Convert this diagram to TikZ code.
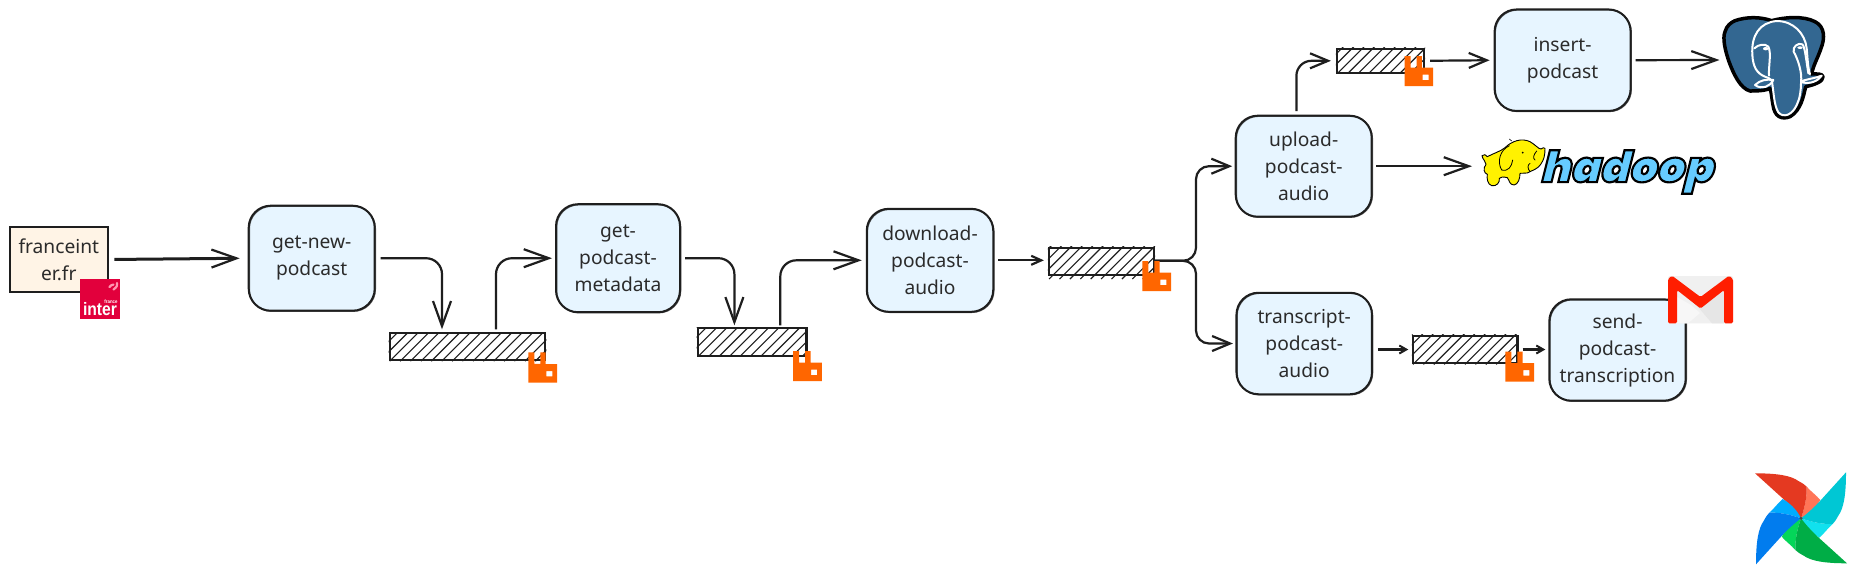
\documentclass[tikz,border=0pt]{standalone}
\usepackage{fontspec}
\setmainfont{Noto Sans}
\newfontfamily\interfont[FakeStretch=0.87]{Liberation Sans Bold}
\newfontfamily\hadoopfont[UprightFont=* Black,FakeSlant=0.25,FakeBold=5]{Poppins}
\usetikzlibrary{arrows.meta,calc}
\definecolor{ink}{HTML}{1E1E1E}
\definecolor{labelc}{HTML}{2B2B2B}
\definecolor{procfill}{HTML}{E7F5FF}
\definecolor{srcfill}{HTML}{FFF4E6}
\definecolor{rabbitc}{HTML}{FF6600}
\definecolor{pgblue}{HTML}{336791}
\definecolor{hdblue}{HTML}{66CCFF}
\tikzset{
  x=1pt,y=-1pt,
  sk/.style={draw=ink,line width=2pt,postaction={draw=ink,line width=1pt,opacity=.7,transform canvas={shift={(0.8pt,-0.7pt)}}}},
  proc/.style={sk,fill=procfill,rounded corners=22pt,align=center,text=labelc,inner sep=0pt,
    font=\fontsize{19.2}{27}\selectfont},
  src/.style={sk,fill=srcfill,align=center,text=labelc,inner sep=0pt,minimum width=98pt,minimum height=65pt,
    font=\fontsize{19.2}{27}\selectfont},
  queue/.style={draw=ink,line width=2.2pt,inner sep=0pt},
  hatchline/.style={draw=ink,line width=1.1pt},
  conn/.style={draw=ink,line width=2.2pt},
  bigtip/.style={-{Straight Barb[length=25pt,width=18pt,line width=2.2pt]}},
  midtip/.style={-{Straight Barb[length=18pt,width=15pt,line width=2.2pt]}},
  smalltip/.style={-{Straight Barb[length=10pt,width=9pt,line width=2.2pt]}},
  tinytip/.style={-{Straight Barb[length=7pt,width=8pt,line width=2pt]},line width=2.2pt},
  wl/.style={draw=white,line width=2pt,line cap=round,line join=round},
  hdl/.style={draw=black,line width=.8pt,line cap=round},
}
\newcommand{\queuebox}[6][0]{%
  \node[queue,minimum width=#5 pt,minimum height=#6 pt] (#2) at (#3,#4) {};
  \begin{scope}
    \clip ($(#2.south west)+(0,#1)$) rectangle (#2.north east);
    \foreach \i in {-30,-19.6,...,#5}{\draw[hatchline] ($(#2.south west)+(\i,#1)$) -- ++(36,-36);}
  \end{scope}}
\newcommand{\rabbiticon}[2]{%
  \fill[rabbitc,even odd rule,shift={(#1,#2)}] (0,0) -- (6,0) -- (6,11.5) -- (12,11.5) -- (12,0) -- (17.3,0) -- (17.3,11.7) -- (28.7,11.7) -- (28.7,30.2) -- (0,30.2) -- cycle (18,18.7) rectangle (24,24);}
\begin{document}
\begin{tikzpicture}
\useasboundingbox (0,0) rectangle (1857,574);
\fill[white] (0,0) rectangle (1857,574);

% process nodes
\node[src] (src) at (58.8,259.5) {franceint\\er.fr};
\node[proc,minimum width=126pt,minimum height=105pt] (gnp) at (311.7,258.2) {get-new-\\podcast};
\node[proc,minimum width=124pt,minimum height=108pt] (gpm) at (618,258.2) {get-\\podcast-\\metadata};
\node[proc,minimum width=126.5pt,minimum height=103pt] (dpa) at (930,260.3) {download-\\podcast-\\audio};
\node[proc,minimum width=136pt,minimum height=101pt] (upa) at (1303.7,166.2) {upload-\\podcast-\\audio};
\node[proc,minimum width=136pt,minimum height=101.5pt] (ipn) at (1562.6,60.2) {insert-\\podcast};
\node[proc,minimum width=135.5pt,minimum height=101.5pt] (tpa) at (1304.2,343.5) {transcript-\\podcast-\\audio};
\node[proc,minimum width=136.4pt,minimum height=101.4pt] (spt) at (1617.5,350) {send-\\podcast-\\transcription};

% queues
\queuebox{qa}{467.5}{346.7}{155.7}{26.7}
\queuebox{qb}{752.1}{342}{108.6}{27.4}
\queuebox[3]{qc}{1101.5}{261.3}{105}{27.3}
\queuebox{qd}{1380.5}{60.8}{87}{23.7}
\queuebox{qe}{1465.2}{349.5}{104.6}{27.6}

% free ends
\coordinate (qaout) at (442,333.3);
\coordinate (qain) at (496,333.3);
\coordinate (qbout) at (734.4,328.3);
\coordinate (qbin) at (780.3,328.3);
\coordinate (split) at (1196,260.8);
\coordinate (upout) at (1296.4,115.7);
\coordinate (pgend) at (1723,60);
\coordinate (hdend) at (1481,166.2);

% connectors
\draw[conn,bigtip,line width=3pt,shorten <=5.5pt,shorten >=8pt] (src.east) -- (gnp.west);
\draw[conn,bigtip,rounded corners=16pt,shorten <=5pt,shorten >=4pt] (gnp.east) -| (qaout);
\draw[conn,bigtip,rounded corners=16pt,shorten <=4pt,shorten >=3pt] (qain) |- (gpm.west);
\draw[conn,bigtip,rounded corners=16pt,shorten <=4pt,shorten >=3pt] (gpm.east) -| (qbout);
\draw[conn,bigtip,rounded corners=16pt,shorten <=3pt,shorten >=4pt] (qbin) |- (dpa.west);
\draw[conn,smalltip,shorten <=4pt,shorten >=4pt] (dpa.east) -- (dpa.east -| qc.west);
\draw[conn,midtip,rounded corners=13pt,shorten >=2.5pt] (split -| qc.east) -- (split) |- (upa.west);
\draw[conn,midtip,rounded corners=13pt,shorten >=2.5pt] (split -| qc.east) -- (split) |- (tpa.west);
\draw[conn,midtip,rounded corners=15pt,shorten <=4.5pt,shorten >=5pt] (upout) |- (qd.west);
\draw[conn,midtip,shorten <=5pt,shorten >=4pt] (qd.east) -- (ipn.west);
\draw[conn,bigtip,shorten <=4pt,shorten >=3.5pt] (ipn.east) -- (pgend);
\draw[conn,bigtip,shorten <=3.5pt,shorten >=9pt] (upa.east) -- (hdend);
\draw[conn,tinytip,shorten <=5pt,shorten >=3.5pt] (qe.west -| tpa.east) -- (qe.west);
\draw[conn,tinytip,shorten <=4pt,shorten >=3pt] (qe.east) -- (qe.east -| spt.west);

% rabbit icons
\rabbiticon{528.3}{352.4}
\rabbiticon{793.2}{351}
\rabbiticon{1142.3}{261}
\rabbiticon{1404.5}{56}
\rabbiticon{1505.3}{351.5}

% france inter logo
\fill[fill={rgb,255:red,226;green,0;blue,60}] (80,279) rectangle (120,319);
\draw[draw={rgb,255:red,255;green,150;blue,175},line width=2.2pt,line cap=round] (109.5,287) .. controls (110.5,285.5) and (111.5,285) .. (113.5,284.5);
\draw[draw={rgb,255:red,255;green,150;blue,175},line width=2.2pt,line cap=round] (117,283) .. controls (117.8,285) and (117,287) .. (113.5,289.5);
\node[inner sep=0pt,text=white,font=\interfont\fontsize{5}{5}\selectfont] (france) at (111,301.5) {france};
\node[inner sep=0pt,text=white,font=\interfont\fontsize{18}{18}\selectfont] (inter) at (100,309.5) {inter};

% gmail icon
\fill[fill={rgb,255:red,240;green,240;blue,240},rounded corners=1.5pt] (1668,276) rectangle (1733,323.3);
\fill[fill={rgb,255:red,230;green,230;blue,230}] (1677,290) -- (1700.5,308) -- (1724,290) -- (1724,323.3) -- (1712,323.3) -- (1692,300) -- cycle;
\fill[fill={rgb,255:red,247;green,247;blue,247}] (1677,323.3) -- (1677,297) -- (1691,305) -- (1700,313) -- (1688,323.3) -- cycle;
\fill[fill={rgb,255:red,255;green,30;blue,0},rounded corners=1.5pt] (1668,279) -- (1672,275.7) -- (1700.5,297) -- (1729,275.7) -- (1733,279) -- (1733,323.3) -- (1724,323.3) -- (1724,290) -- (1700.5,308.5) -- (1677,290) -- (1677,323.3) -- (1668,323.3) -- cycle;

% airflow pinwheel
\begin{scope}[shift={(1801,518.3)},scale=1/3]
  \foreach \r/\dk/\lt in {0/E43921/FF7557,-90/00C7D4/11E1EE,-180/00AD46/04D659,-270/017CEE/00ACFF}{
    \definecolor{dkc}{HTML}{\dk}\definecolor{ltc}{HTML}{\lt}
    \begin{scope}[rotate=\r]
      \fill[ltc] (17,-95) .. controls (30,-80) and (45,-70) .. (58,-55) .. controls (40,-25) and (20,-10) .. (0,0) .. controls (12,-35) and (18,-65) .. (17,-95) -- cycle;
      \fill[dkc] (-138,-135) .. controls (-70,-135) and (-30,-128) .. (-8,-112) .. controls (5,-105) and (12,-100) .. (17,-95) .. controls (18,-65) and (12,-35) .. (0,0) .. controls (-15,-20) and (-35,-42) .. (-53,-58) -- cycle;
    \end{scope}}
  \fill[fill={rgb,255:red,74;green,72;blue,72}] (0,0) circle (5);
\end{scope}

% postgres elephant
\begin{scope}[shift={(1715,5)},scale=1/3]
  \path[fill=pgblue,draw=black,line width=3.5pt,line join=round]
    (60,47) .. controls (95,35) and (135,35) .. (170,47)
    .. controls (210,36) and (265,32) .. (300,50)
    .. controls (330,65) and (330,100) .. (318,130)
    .. controls (308,160) and (295,180) .. (290,207)
    .. controls (305,207) and (322,205) .. (324,215)
    .. controls (326,230) and (295,240) .. (272,245)
    .. controls (265,275) and (258,315) .. (225,335)
    .. controls (200,345) and (178,335) .. (174,300)
    .. controls (170,280) and (170,265) .. (165,250)
    .. controls (150,258) and (120,258) .. (105,258)
    .. controls (75,250) and (55,205) .. (42,170)
    .. controls (30,135) and (22,100) .. (30,80)
    .. controls (35,62) and (48,52) .. (60,47) -- cycle;
  \draw[wl] (112,150) .. controls (108,90) and (135,52) .. (185,48) .. controls (235,48) and (270,85) .. (275,130) .. controls (278,160) and (278,185) .. (285,208);
  \draw[wl] (112,150) .. controls (114,185) and (125,205) .. (150,215) .. controls (158,218) and (165,220) .. (170,226) .. controls (176,255) and (176,300) .. (190,322) .. controls (205,340) and (232,330) .. (245,300) .. controls (255,280) and (258,255) .. (258,232) .. controls (262,205) and (250,165) .. (236,140) .. controls (232,125) and (250,112) .. (262,118) .. controls (270,125) and (274,170) .. (280,205);
  \draw[wl] (118,130) .. controls (130,118) and (150,115) .. (160,125) .. controls (170,145) and (160,185) .. (162,212);
  \draw[wl] (120,240) .. controls (135,225) and (155,222) .. (175,225) .. controls (165,245) and (140,255) .. (120,240) -- cycle;
  \draw[wl] (260,228) .. controls (280,222) and (305,218) .. (320,212) .. controls (310,228) and (285,238) .. (262,232);
  \fill[white] (152,131) ellipse (8 and 5);
  \fill[white] (255,128) ellipse (8 and 4);
\end{scope}

% hadoop elephant
\node[inner sep=0pt,text=hdblue,font=\hadoopfont\fontsize{43}{43}\selectfont] (hadoop) at (1626,172) {\special{pdf:code 0 0 0 RG}hadoop};
\begin{scope}[shift={(1470,125)},scale=1/3]
  \path[fill=yellow,draw=black,line width=.9pt,line join=round]
    (36,92) .. controls (42,85) and (48,90) .. (52,95)
    .. controls (70,85) and (90,80) .. (105,68)
    .. controls (125,48) and (155,38) .. (180,50)
    .. controls (195,58) and (205,72) .. (213,72)
    .. controls (218,70) and (222,65) .. (225,70)
    .. controls (225,90) and (222,105) .. (212,118)
    .. controls (205,130) and (190,135) .. (180,140)
    .. controls (170,148) and (160,142) .. (150,145)
    .. controls (150,160) and (145,178) .. (132,180)
    .. controls (118,180) and (118,165) .. (112,158)
    .. controls (100,155) and (92,155) .. (88,160)
    .. controls (90,172) and (80,185) .. (65,182)
    .. controls (52,178) and (50,160) .. (52,148)
    .. controls (42,145) and (38,130) .. (48,118)
    .. controls (48,108) and (38,105) .. (36,92) -- cycle;
  \draw[hdl] (118,62) .. controls (90,75) and (80,110) .. (95,135) .. controls (115,140) and (125,125) .. (128,105);
  \draw[hdl] (180,140) .. controls (172,130) and (172,120) .. (180,115);
  \fill[black] (158,83) circle (3);
  \draw[hdl] (200,78) .. controls (190,90) and (188,100) .. (195,105);
  \draw[hdl,line width=.6pt] (118,42) -- (125,48);
\end{scope}
\end{tikzpicture}
\end{document}
